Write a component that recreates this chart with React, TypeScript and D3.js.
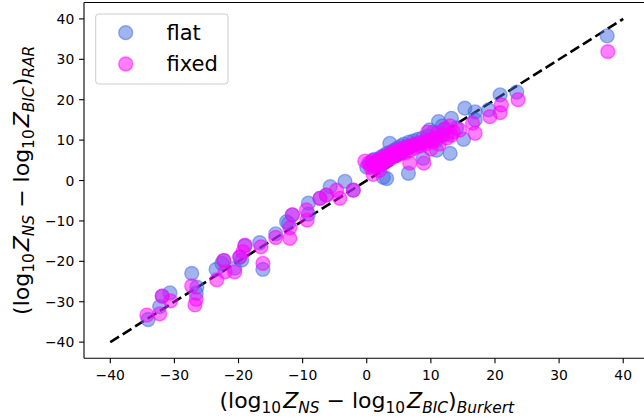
import React from "react";
import * as d3 from "d3";

const xTicks = [-40, -30, -20, -10, 0, 10, 20, 30, 40];
const yTicks = [-40, -30, -20, -10, 0, 10, 20, 30, 40];
const diagonal = [-40, 40];
const seriesNames = ["flat", "fixed"];
const seriesColors = ["#4169e1", "#ff00ff"];

const flatPoints: [number, number][] = [
  [-34.1, -34.4], [-32.3, -31.2], [-31.9, -28.6], [-30.7, -27.8], [-27.3, -23.0],
  [-26.5, -26.4], [-26.6, -27.9], [-23.5, -22.0], [-22.6, -20.5], [-22.3, -19.8],
  [-20.6, -21.7], [-19.8, -19.0], [-19.5, -19.7], [-19.0, -16.2], [-16.7, -15.4],
  [-16.2, -22.0], [-14.2, -13.2], [-12.2, -10.6], [-12.5, -10.2], [-11.6, -8.5],
  [-9.1, -8.3], [-9.1, -5.6], [-7.3, -4.4], [-6.3, -3.6], [-5.7, -1.5],
  [-3.4, -0.2], [-2.1, -2.4],
  [0.0, 3.3], [0.5, 4.0], [0.8, 4.6], [1.0, 3.5], [1.2, 5.2], [1.5, 4.2], [1.8, 5.0], [2.0, 3.8],
  [2.2, 5.8], [2.5, 4.5], [2.7, 6.2], [3.0, 5.0], [3.2, 6.8], [3.5, 5.5], [3.6, 9.2],
  [3.8, 7.0], [4.0, 6.0], [4.3, 7.5], [4.5, 6.5], [4.8, 8.0], [5.0, 7.0], [5.3, 8.5],
  [5.5, 7.2], [5.8, 9.0], [6.0, 7.8], [6.3, 8.2], [6.6, 9.5], [7.0, 8.5], [7.3, 9.8],
  [7.6, 8.8], [8.0, 10.2], [8.3, 9.0], [8.7, 10.5], [9.0, 9.5], [9.5, 11.0], [10.0, 10.0],
  [10.4, 12.0], [10.9, 7.5], [11.5, 11.0], [12.0, 12.5], [12.5, 11.5], [9.8, 12.5], [11.8, 13.5],
  [2.6, 0.8], [3.1, 0.5], [6.5, 1.8], [8.8, 5.5], [13.0, 6.7], [11.2, 14.6], [13.2, 15.4],
  [15.3, 17.9], [16.9, 17.0], [20.8, 21.2], [23.4, 21.9], [15.1, 10.2], [10.9, 10.0],
  [14.0, 13.0], [16.9, 15.0], [19.0, 17.5], [37.5, 35.8],
];

const fixedPoints: [number, number][] = [
  [-34.3, -33.3], [-32.3, -33.0], [-31.9, -28.6], [-30.6, -29.8], [-27.3, -26.1],
  [-26.6, -29.4], [-26.8, -30.8], [-23.4, -24.6], [-22.3, -19.8], [-22.1, -22.6],
  [-20.6, -22.6], [-19.8, -18.9], [-19.3, -17.6], [-19.0, -16.0], [-16.5, -16.4],
  [-16.2, -20.5], [-14.2, -14.1], [-12.0, -14.3], [-12.0, -11.7], [-11.6, -8.5],
  [-9.3, -9.8], [-9.4, -7.3], [-7.3, -4.4], [-6.3, -3.6], [-4.7, -2.4],
  [-4.2, -4.4], [-2.1, -2.4],
  [-0.3, 4.8], [0.3, 4.3], [0.6, 3.2], [0.9, 5.0], [1.2, 3.8], [1.4, 4.6], [1.7, 3.5], [2.0, 5.2],
  [2.2, 4.0], [2.5, 5.8], [2.8, 4.5], [3.0, 6.0], [3.3, 5.0], [3.5, 6.5], [3.8, 5.5],
  [4.0, 7.0], [4.3, 6.0], [4.6, 7.2], [4.9, 6.3], [5.2, 7.8], [5.5, 6.8], [5.8, 8.0],
  [6.1, 7.0], [6.4, 8.5], [6.7, 4.3], [6.8, 7.5], [7.2, 8.8], [7.5, 8.0], [7.9, 9.2],
  [8.3, 8.5], [8.9, 4.3], [8.7, 9.5], [9.2, 9.0], [9.7, 10.0], [10.2, 9.5], [10.7, 10.5],
  [11.3, 9.0], [11.8, 11.2], [12.5, 10.5], [13.5, 12.0], [14.5, 12.5], [16.9, 11.7],
  [11.0, 11.8], [12.2, 12.8], [13.2, 11.2], [9.5, 12.0],
  [19.2, 15.8], [20.8, 16.8], [21.0, 18.7], [23.6, 20.0], [37.6, 31.9], [1.0, 1.5],
  [2.0, 2.5], [16.5, 14.2], [13.0, 13.5], [10.0, 7.8],
];

type Part = { t: string; sub?: boolean; it?: boolean; dx?: number };

const xLabelParts: Part[] = [
  { t: "(log" }, { t: "10", sub: true }, { t: "Z", it: true, dx: 2 }, { t: "NS", sub: true, it: true },
  { t: " − log" }, { t: "10", sub: true }, { t: "Z", it: true, dx: 2 }, { t: "BIC", sub: true, it: true },
  { t: ")" }, { t: "Burkert", sub: true, it: true },
];
const yLabelParts: Part[] = [
  { t: "(log" }, { t: "10", sub: true }, { t: "Z", it: true, dx: 2 }, { t: "NS", sub: true, it: true },
  { t: " − log" }, { t: "10", sub: true }, { t: "Z", it: true, dx: 2 }, { t: "BIC", sub: true, it: true },
  { t: ")" }, { t: "RAR", sub: true, it: true },
];

function mathTspans(parts: Part[], fs: number) {
  const shift = fs * 0.22;
  let cur = 0;
  return parts.map((p, i) => {
    const target = p.sub ? shift : 0;
    const dy = target - cur;
    cur = target;
    return (
      <tspan
        key={i}
        dy={dy}
        dx={p.dx || 0}
        fontSize={p.sub ? fs * 0.7 : fs}
        fontStyle={p.it ? "italic" : "normal"}
      >
        {p.t}
      </tspan>
    );
  });
}

export default function App() {
  const W = 644;
  const H = 420;
  const x = d3.scaleLinear().domain([-44.1, 44.1]).range([84, 649.5]);
  const y = d3.scaleLinear().domain([-44, 44.06]).range([358.3, 2.5]);
  const [x0, x1] = x.range();
  const [y0, y1] = y.range();
  const line = d3.line<number>().x((d) => x(d)).y((d) => y(d));
  const font = "DejaVu Sans";
  const tickLen = 4.9;
  const r = 6.95;
  const series = [flatPoints, fixedPoints];

  return (
    <svg
      width={W}
      height={H}
      style={{ position: "absolute", left: 0, top: 0, background: "#fff", overflow: "hidden" }}
      fontFamily={font}
    >
      <defs>
        <clipPath id="plotclip">
          <rect x={x0} y={y1} width={x1 - x0} height={y0 - y1} />
        </clipPath>
      </defs>
      <rect x={0} y={0} width={W} height={H} fill="#fff" />
      <g clipPath="url(#plotclip)">
        <path
          d={line(diagonal) || ""}
          stroke="#000"
          strokeWidth={2.6}
          strokeDasharray="10.3,4.4"
          fill="none"
        />
        {series.map((pts, si) =>
          pts.map((p, i) => (
            <circle
              key={`${si}-${i}`}
              cx={x(p[0])}
              cy={y(p[1])}
              r={r}
              fill={seriesColors[si]}
              fillOpacity={0.5}
              stroke={seriesColors[si]}
              strokeOpacity={0.5}
              strokeWidth={1.39}
            />
          ))
        )}
      </g>
      {/* spines */}
      <line x1={x0} x2={x0} y1={y1} y2={y0} stroke="#000" strokeWidth={1.1} />
      <line x1={x0} x2={x1} y1={y0} y2={y0} stroke="#000" strokeWidth={1.1} />
      <line x1={x0} x2={x1} y1={y1} y2={y1} stroke="#000" strokeWidth={1.1} />
      {/* x ticks */}
      {xTicks.map((t) => (
        <g key={`xt${t}`}>
          <line x1={x(t)} x2={x(t)} y1={y0} y2={y0 + tickLen} stroke="#000" strokeWidth={1.1} />
          <text x={x(t)} y={y0 + 22} textAnchor="middle" fontSize={13.9} fill="#000">
            {t < 0 ? `−${Math.abs(t)}` : `${t}`}
          </text>
        </g>
      ))}
      {/* y ticks */}
      {yTicks.map((t) => (
        <g key={`yt${t}`}>
          <line x1={x0 - tickLen} x2={x0} y1={y(t)} y2={y(t)} stroke="#000" strokeWidth={1.1} />
          <text x={x0 - 9.7} y={y(t) + 5} textAnchor="end" fontSize={13.9} fill="#000">
            {t < 0 ? `−${Math.abs(t)}` : `${t}`}
          </text>
        </g>
      ))}
      {/* axis labels */}
      <text x={(x0 + x1) / 2} y={408} textAnchor="middle" fontSize={22} fill="#000">
        {mathTspans(xLabelParts, 22)}
      </text>
      <text
        transform={`translate(29,${(y0 + y1) / 2}) rotate(-90)`}
        textAnchor="middle"
        fontSize={22}
        fill="#000"
      >
        {mathTspans(yLabelParts, 22)}
      </text>
      {/* legend */}
      <rect x={95.7} y={14} width={132.3} height={70} rx={3} fill="#fff" fillOpacity={0.8} stroke="#cccccc" strokeWidth={1} />
      {seriesNames.map((n, i) => (
        <g key={n}>
          <circle
            cx={125.7}
            cy={32.7 + i * 31.3}
            r={r}
            fill={seriesColors[i]}
            fillOpacity={0.5}
            stroke={seriesColors[i]}
            strokeOpacity={0.5}
            strokeWidth={1.39}
          />
          <text x={166.5} y={39.5 + i * 31.3} fontSize={21} fill="#000">
            {n}
          </text>
        </g>
      ))}
    </svg>
  );
}
